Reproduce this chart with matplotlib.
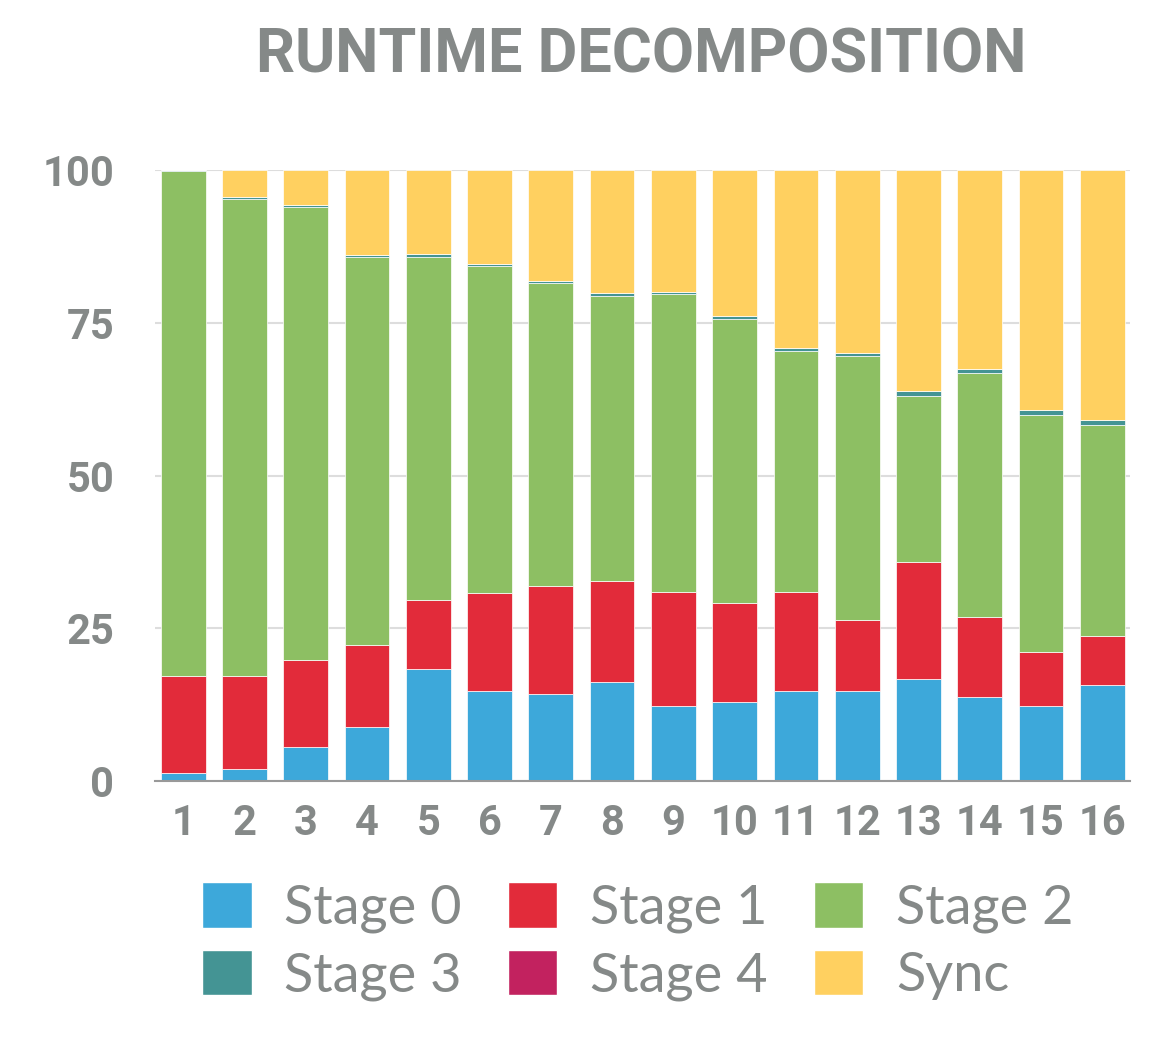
import numpy as np
import matplotlib.pyplot as plt
from matplotlib.patches import Patch

# runtime share per configuration, percent
runs = list(range(1, 17))
stage0 = [1.3, 2.0, 5.6, 8.8, 18.3, 14.8, 14.3, 16.2, 12.2, 13.0, 14.8, 14.8, 16.7, 13.8, 12.2, 15.7]
stage1 = [15.9, 15.2, 14.2, 13.4, 11.4, 16.0, 17.6, 16.5, 18.8, 16.2, 16.2, 11.6, 19.1, 13.0, 8.9, 8.0]
stage2 = [82.7, 78.1, 74.2, 63.6, 56.1, 53.5, 49.6, 46.7, 48.7, 46.4, 39.4, 43.2, 27.2, 39.9, 38.8, 34.6]
stage3 = [0.1, 0.3, 0.3, 0.3, 0.4, 0.3, 0.4, 0.5, 0.3, 0.5, 0.5, 0.5, 0.8, 0.8, 0.8, 0.8]
stage4 = [0.0] * 16
sync = [0.0, 4.4, 5.7, 13.9, 13.8, 15.4, 18.1, 20.1, 20.0, 23.9, 29.1, 29.9, 36.2, 32.5, 39.3, 40.9]

labels = ["Stage 0", "Stage 1", "Stage 2", "Stage 3", "Stage 4", "Sync"]
colors = ["#3da8da", "#e22b3a", "#8dbf63", "#449494", "#c2225f", "#ffd060"]
series = [stage0, stage1, stage2, stage3, stage4, sync]

GRAY = "#858988"
COND = ["Roboto", "DejaVu Sans"]


def main():
    fig = plt.figure(figsize=(11.72, 10.38), dpi=100)
    ax = fig.add_axes([0.132, 0.2476, 0.832, 0.5886])

    bottom = np.zeros(len(runs))
    for vals, col, lab in zip(series, colors, labels):
        vals = np.array(vals)
        ax.bar(runs, vals, bottom=bottom, width=0.73, color=col,
               edgecolor="white", linewidth=0.5, label=lab, zorder=3)
        bottom += vals

    ax.set_xlim(0.535, 16.45)
    ax.set_ylim(0, 100)
    ax.set_yticks([0, 25, 50, 75, 100])
    ax.set_xticks(runs)
    ax.grid(axis="y", color="#dddddd", linewidth=1.5, zorder=0)
    for s in ["top", "right", "left"]:
        ax.spines[s].set_visible(False)
    ax.spines["bottom"].set_color("#999999")
    ax.spines["bottom"].set_linewidth(1.5)
    ax.spines["bottom"].set_zorder(4)
    ax.tick_params(axis="both", length=0)
    ax.tick_params(axis="y", pad=29)
    ax.tick_params(axis="x", pad=16)
    for t in ax.get_xticklabels() + ax.get_yticklabels():
        t.set_family(COND)
        t.set_fontweight("bold")
        t.set_fontsize(30)
        t.set_color(GRAY)

    fig.text(0.547, 0.947, "RUNTIME DECOMPOSITION", ha="center", va="center",
             family=COND, fontweight="bold", fontsize=44, color=GRAY)

    handles = [Patch(facecolor=c, edgecolor="white") for c in colors]
    order = [0, 3, 1, 4, 2, 5]
    leg = fig.legend([handles[i] for i in order], [labels[i] for i in order],
                     loc="center", bbox_to_anchor=(0.544, 0.093), ncol=3,
                     frameon=False, handlelength=0.92, handleheight=0.92,
                     handletextpad=0.6, columnspacing=0.85, labelspacing=0.3,
                     prop={"family": ["Lato", "DejaVu Sans"], "size": 39})
    for t in leg.get_texts():
        t.set_color(GRAY)

    fig.savefig("out.png", dpi=100)


if __name__ == "__main__":
    main()
